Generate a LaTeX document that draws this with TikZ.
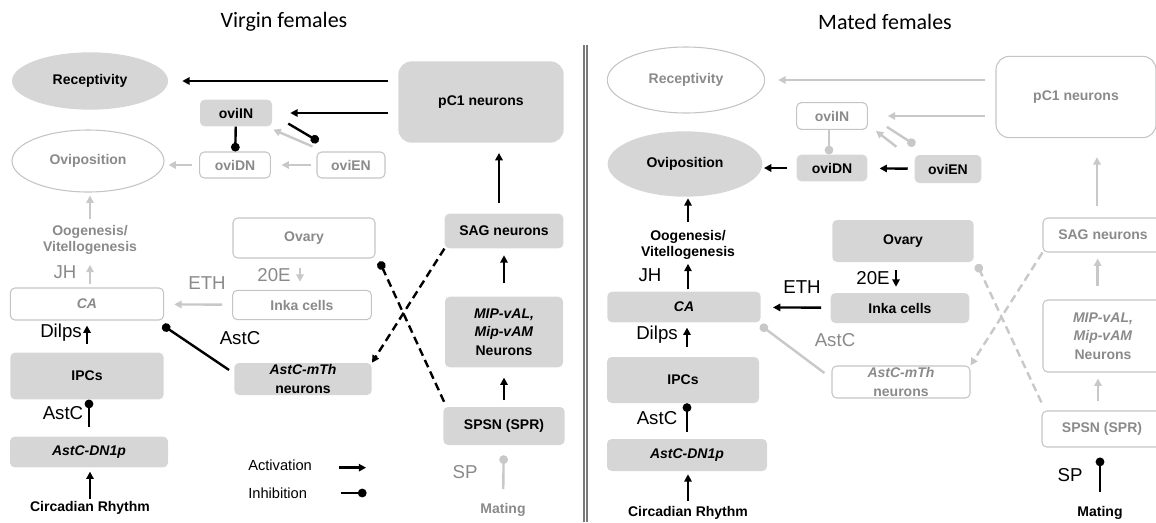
\documentclass[tikz,border=0pt]{standalone}
\usepackage{fontspec}
\setmainfont{Liberation Sans}
\newfontfamily\titlefont{Carlito}
\usetikzlibrary{arrows.meta,shapes.geometric}
\definecolor{cFill}{HTML}{D6D6D6}
\definecolor{cEdge}{HTML}{C4C4C4}
\definecolor{cGtxt}{HTML}{8A8A8A}
\definecolor{cGarr}{HTML}{C8C8C8}
\definecolor{cSep} {HTML}{7A7A7A}
\tikzset{
  box/.style={rounded corners=3.5pt,align=center,inner sep=0pt,
              font=\fontsize{10.5}{14}\selectfont\bfseries},
  onbox/.style={box,fill=cFill},
  offbox/.style={box,draw=cEdge,line width=0.8pt,text=cGtxt},
  onell/.style={ellipse,inner sep=0pt,fill=cFill,
                font=\fontsize{10.5}{12}\selectfont\bfseries},
  offell/.style={ellipse,inner sep=0pt,draw=cEdge,line width=0.8pt,text=cGtxt,
                 font=\fontsize{10.5}{12}\selectfont\bfseries},
  hlab/.style={inner sep=0pt,font=\fontsize{14}{16}\selectfont},
  blab/.style={inner sep=0pt,align=center,font=\fontsize{10.5}{12}\selectfont\bfseries},
  lgd/.style={inner sep=0pt,font=\fontsize{11}{13}\selectfont},
  ttl/.style={inner sep=0pt,font=\titlefont\fontsize{16.5}{19}\selectfont},
  act/.style={-{Triangle[length=5.5pt,width=5.5pt]},line width=1.8pt},
  inh/.style={-{Circle[length=6.5pt]},line width=1.8pt},
  gact/.style={act,cGarr},
  ginh/.style={inh,cGarr},
  dsh/.style={dash pattern=on 6pt off 3.5pt},
}
\begin{document}
\begin{tikzpicture}[x=0.75pt,y=-0.75pt]
  \useasboundingbox (0,0) rectangle (1156,522);
  % panel divider
  \draw[cSep,line width=0.8pt] (584,45) -- (584,522) (587,45) -- (587,522);

  % ---- virgin females
  \node[ttl] (vtitle) at (284,22) {Virgin females};
  \node[onell,minimum width=117pt,minimum height=43pt] (vrec) at (90,81) {Receptivity};
  \node[offell,minimum width=114pt,minimum height=46.5pt] (vovp) at (88,161) {Oviposition};
  \node[onbox,minimum width=54pt,minimum height=20pt] (voviIN) at (236,113) {oviIN};
  \node[offbox,minimum width=53pt,minimum height=19.5pt] (voviDN) at (235,165) {oviDN};
  \node[offbox,minimum width=51pt,minimum height=19.5pt] (voviEN) at (351,165) {oviEN};
  \node[onbox,rounded corners=10pt,minimum width=124pt,minimum height=61pt] (vpc1) at (481,102) {pC1 neurons};
  \node[blab,text=cGtxt] (voog) at (90,240) {Oogenesis/\\Vitellogenesis};
  \node[offbox,minimum width=106.5pt,minimum height=30pt] (vovary) at (304,238) {Ovary};
  \node[hlab,text=cGtxt] (vjh) at (65,272) {JH};
  \node[offbox,minimum width=115pt,minimum height=24pt] (vca) at (87,304) {\textit{CA}};
  \node[hlab,text=cGtxt] (veth) at (207,283) {ETH};
  \node[hlab,text=cGtxt] (v20e) at (274,275) {20E};
  \node[offbox,minimum width=104pt,minimum height=22pt] (vinka) at (302,305) {Inka cells};
  \node[hlab] (vastcb) at (240,338) {AstC};
  \node[onbox,minimum width=103pt,minimum height=24pt] (vmth) at (303,379) {\textit{AstC-mTh}\\neurons};
  \node[hlab] (vdilps) at (61,333) {Dilps};
  \node[onbox,minimum width=115pt,minimum height=35pt] (vipc) at (87,376) {IPCs};
  \node[hlab] (vastca) at (63,413) {AstC};
  \node[onbox,minimum width=118.5pt,minimum height=23pt] (vdn1p) at (89,452) {\textit{AstC-DN1p}};
  \node[blab] (vcirc) at (90,508) {Circadian Rhythm};
  \node[onbox,minimum width=89pt,minimum height=26pt] (vsag) at (504,231) {SAG neurons};
  \node[onbox,minimum width=88.5pt,minimum height=53pt] (vmip) at (504,332) {\textit{MIP-vAL,}\\\textit{Mip-vAM}\\Neurons};
  \node[onbox,minimum width=91pt,minimum height=28.5pt] (vspsn) at (504,426) {SPSN (SPR)};
  \node[hlab,text=cGtxt] (vsp) at (465,472) {SP};
  \node[blab,text=cGtxt] (vmating) at (503,510) {Mating};
  \node[lgd,anchor=west] (lact) at (248,465) {Activation};
  \node[lgd,anchor=west] (linh) at (248,493) {Inhibition};

  \draw[act,shorten <=7.5pt,shorten >=10.5pt] (vpc1.west |- vrec) -- (vrec);
  \draw[act,shorten <=7.5pt,shorten >=13.5pt] (vpc1.west |- voviIN) -- (voviIN);
  \draw[inh] ([xshift=12pt,yshift=2.25pt]voviIN.south east) -- ([xshift=1.5pt,yshift=7.5pt]voviEN.north west);
  \draw[gact] ([xshift=-3pt,yshift=3.75pt]voviEN.north west) -- ([xshift=.75pt,yshift=-2.25pt]voviIN.south east);
  \draw[inh] (voviIN) -- (voviDN);
  \draw[gact,shorten <=4pt,shorten >=8pt] (voviEN) -- (voviDN);
  \draw[gact,shorten <=5pt,shorten >=3pt] (voviDN.west) -- (vovp.east |- voviDN.west);
  \draw[gact,shorten <=4.5pt,shorten >=2.25pt] (voog.north) -- (voog.north |- vovp.south);
  \draw[gact,shorten <=2.25pt,shorten >=7.5pt] (voog.south |- vca.north) -- (voog.south);
  \draw[gact,shorten <=7.5pt,shorten >=7.5pt] (vinka) -- (vca);
  \draw[gact,shorten <=6.75pt,shorten >=6pt] ([xshift=-3pt]vovary.south) -- ([xshift=-3pt]vovary.south |- vinka.north);
  \draw[inh] ([xshift=-3.75pt,yshift=6.75pt]vmth.west) -- ([xshift=-1.2pt,yshift=-3.45pt]vca.south east);
  \draw[act,shorten <=6pt,shorten >=3.75pt] (vipc.north) -- (vca.south);
  \draw[inh,shorten <=7pt] (vdn1p.north) -- (vdn1p.north |- vipc.south);
  \draw[act,shorten <=2pt,shorten >=3pt] (vcirc.north) -- (vcirc.north |- vdn1p.south);
  \draw[act,shorten <=7.5pt,shorten >=7.5pt] ([xshift=-3.75pt]vsag.north) -- ([xshift=-3.75pt]vsag.north |- vpc1.south);
  \draw[act,shorten <=10pt,shorten >=5pt] (vmip) -- (vsag);
  \draw[act,shorten <=5pt,shorten >=7.5pt] (vspsn) -- (vmip);
  \draw[ginh,shorten <=10.5pt,shorten >=7.5pt] (vmating) -- (vspsn);
  \draw[inh,dsh] ([xshift=.75pt,yshift=3.75pt]vspsn.north west) -- ([xshift=3pt,yshift=-2.25pt]vovary.south east);
  \draw[act,dsh] (vsag.south west) -- (vmth.north east);
  \draw[act] ([xshift=20pt,yshift=-2pt]lact.east) -- ++(20.5pt,0);
  \draw[inh] ([xshift=25pt]linh.east) -- ++(19.5pt,0);

  % ---- mated females
  \node[ttl] (mtitle) at (885,22) {Mated females};
  \node[offell,minimum width=118pt,minimum height=49.5pt] (mrec) at (686,80) {Receptivity};
  \node[onell,minimum width=116pt,minimum height=49pt] (movp) at (685,164) {Oviposition};
  \node[offbox,minimum width=53pt,minimum height=20pt] (moviIN) at (832,116) {oviIN};
  \node[onbox,minimum width=53pt,minimum height=20pt] (moviDN) at (832,168) {oviDN};
  \node[onbox,minimum width=50pt,minimum height=21pt] (moviEN) at (948,169) {oviEN};
  \node[offbox,rounded corners=10pt,minimum width=120pt,minimum height=61pt] (mpc1) at (1076,97) {pC1 neurons};
  \node[blab] (moog) at (688,245) {Oogenesis/\\Vitellogenesis};
  \node[onbox,minimum width=106pt,minimum height=31.5pt] (movary) at (903,241) {Ovary};
  \node[hlab] (mjh) at (650,275) {JH};
  \node[onbox,minimum width=115pt,minimum height=23pt] (mca) at (684,307) {\textit{CA}};
  \node[hlab] (meth) at (802,287) {ETH};
  \node[hlab] (m20e) at (873,278) {20E};
  \node[onbox,minimum width=104pt,minimum height=22.5pt] (minka) at (900,308) {Inka cells};
  \node[hlab,text=cGtxt] (mastcb) at (835,340) {AstC};
  \node[offbox,minimum width=103.5pt,minimum height=24pt] (mmth) at (901,382) {\textit{AstC-mTh}\\neurons};
  \node[hlab] (mdilps) at (657,335) {Dilps};
  \node[onbox,minimum width=114pt,minimum height=34.5pt] (mipc) at (683,380) {IPCs};
  \node[hlab] (mastca) at (657,418) {AstC};
  \node[onbox,minimum width=120pt,minimum height=24pt] (mdn1p) at (687,455) {\textit{AstC-DN1p}};
  \node[blab] (mcirc) at (688,513) {Circadian Rhythm};
  \node[offbox,minimum width=90pt,minimum height=25.5pt] (msag) at (1103,235) {SAG neurons};
  \node[offbox,minimum width=90pt,minimum height=54pt] (mmip) at (1103,336) {\textit{MIP-vAL,}\\\textit{Mip-vAM}\\Neurons};
  \node[offbox,minimum width=90pt,minimum height=27pt] (mspsn) at (1102,429) {SPSN (SPR)};
  \node[hlab] (msp) at (1070,475) {SP};
  \node[blab] (mmating) at (1100,513) {Mating};

  \draw[gact,shorten <=8pt,shorten >=9.75pt] (mpc1.west |- mrec) -- (mrec);
  \draw[gact,shorten <=8pt,shorten >=15pt] (mpc1.west |- moviIN) -- (moviIN);
  \draw[ginh] ([xshift=14.25pt,yshift=2.25pt]moviIN.south east) -- ([xshift=.5pt,yshift=7.3pt]moviEN.north west);
  \draw[gact] ([xshift=-13.5pt,yshift=6pt]moviEN.north west) -- ([xshift=6pt,yshift=-.75pt]moviIN.south east);
  \draw[ginh] ([xshift=-2.25pt]moviIN.south) -- ([xshift=-2.25pt]moviDN.north);
  \draw[act,shorten <=5pt,shorten >=9pt] (moviEN) -- (moviDN);
  \draw[act,shorten <=7pt,shorten >=1pt] (moviDN.west) -- (moviDN.west -| movp.east);
  \draw[act,shorten <=6pt,shorten >=1pt] (moog.north) -- (moog.north |- movp.south);
  \draw[act,shorten <=1.5pt,shorten >=3pt] (moog.south |- mca.north) -- (moog.south);
  \draw[act,shorten <=7pt,shorten >=9pt] (minka) -- (mca);
  \draw[act,shorten <=6pt,shorten >=4.5pt] ([xshift=-5.25pt]movary.south) -- ([xshift=-5.25pt]movary.south |- minka.north);
  \draw[ginh] ([xshift=-5.25pt,yshift=6.75pt]mmth.west) -- ([xshift=-.4pt,yshift=-1.9pt]mca.south east);
  \draw[act,shorten <=7.5pt,shorten >=3.75pt] ([xshift=3pt]mipc.north) -- ([xshift=3pt]mipc.north |- mca.south);
  \draw[inh,shorten <=5pt] (mdn1p.north) -- (mdn1p.north |- mipc.south);
  \draw[act,shorten <=3.75pt,shorten >=2.25pt] (mcirc.north) -- (mcirc.north |- mdn1p.south);
  \draw[gact,shorten <=8.25pt,shorten >=14.25pt] ([xshift=-4.5pt]msag.north) -- ([xshift=-4.5pt]msag.north |- mpc1.south);
  \draw[gact,shorten <=9.75pt,shorten >=4.5pt] ([xshift=-4pt]mmip.north) -- ([xshift=-4pt]msag.south);
  \draw[gact,shorten <=6.75pt,shorten >=4.5pt] ([xshift=-3pt]mspsn.north) -- ([xshift=-3pt]mspsn.north |- mmip.south);
  \draw[inh,shorten <=11pt,shorten >=7.5pt] (mmating.north) -- (mmating.north |- mspsn.south);
  \draw[ginh,dsh] ([yshift=6pt]mspsn.north west) -- ([xshift=2.25pt,yshift=-1.5pt]movary.south east);
  \draw[gact,dsh] (msag.south west) -- (mmth.north east);
\end{tikzpicture}
\end{document}
